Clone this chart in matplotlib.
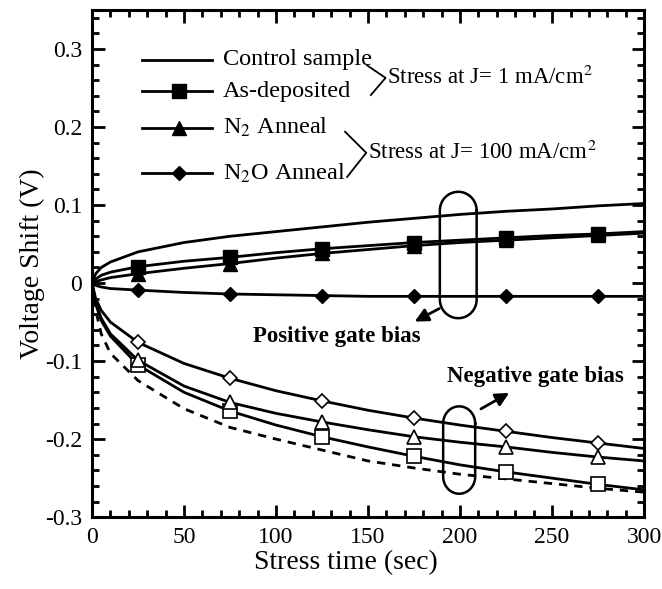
import numpy as np
import matplotlib
matplotlib.use("Agg")
import matplotlib.pyplot as plt
from matplotlib.ticker import MultipleLocator

plt.rcParams['font.family'] = ['Liberation Serif', 'DejaVu Serif']
plt.rcParams['mathtext.fontset'] = 'stix'

# stress time (sec) and read-off voltage shifts (V)
t = [0, 2, 5, 10, 25, 50, 75, 100, 125, 150, 175, 200, 225, 250, 275, 300]
marker_idx = [4, 6, 8, 10, 12, 14]  # t = 25, 75, ..., 275

# positive gate bias
pos_control = [0, 0.012, 0.020, 0.027, 0.040, 0.052, 0.060, 0.066, 0.072, 0.078,
               0.083, 0.088, 0.092, 0.095, 0.099, 0.102]
pos_asdep = [0, 0.005, 0.010, 0.014, 0.021, 0.028, 0.033, 0.039, 0.044, 0.048,
             0.052, 0.055, 0.058, 0.061, 0.063, 0.066]
pos_n2 = [0, 0.002, 0.004, 0.007, 0.012, 0.019, 0.025, 0.032, 0.038, 0.043,
          0.048, 0.052, 0.055, 0.058, 0.061, 0.064]
pos_n2o = [0, -0.003, -0.005, -0.007, -0.009, -0.012, -0.014, -0.015, -0.016, -0.017,
           -0.017, -0.017, -0.017, -0.017, -0.017, -0.017]

# negative gate bias
neg_control = [0, -0.035, -0.065, -0.090, -0.125, -0.161, -0.185, -0.200, -0.214, -0.228,
               -0.237, -0.245, -0.251, -0.257, -0.263, -0.268]
neg_asdep = [0, -0.027, -0.048, -0.068, -0.105, -0.140, -0.164, -0.182, -0.197, -0.210,
             -0.222, -0.233, -0.242, -0.250, -0.258, -0.265]
neg_n2 = [0, -0.025, -0.045, -0.065, -0.099, -0.132, -0.153, -0.167, -0.178, -0.188,
          -0.197, -0.204, -0.210, -0.217, -0.223, -0.228]
neg_n2o = [0, -0.020, -0.035, -0.050, -0.076, -0.103, -0.122, -0.138, -0.151, -0.163,
           -0.173, -0.182, -0.190, -0.198, -0.205, -0.212]

fig = plt.figure(figsize=(6.62, 5.89), dpi=100)
ax = fig.add_axes([0.139, 0.122, 0.834, 0.861])

lw = 2.0
ms = 10
ax.plot(t, pos_control, 'k-', lw=lw)
ax.plot(t, pos_asdep, 'k-', lw=lw, marker='s', ms=ms, markevery=marker_idx)
ax.plot(t, pos_n2, 'k-', lw=lw, marker='^', ms=ms, markevery=marker_idx)
ax.plot(t, pos_n2o, 'k-', lw=lw, marker='D', ms=7, markevery=marker_idx)

ax.plot(t, neg_control, 'k--', lw=lw, dashes=(3, 2.5))
ax.plot(t, neg_asdep, 'k-', lw=lw, marker='s', ms=ms, mfc='white', mew=1.2, markevery=marker_idx)
ax.plot(t, neg_n2, 'k-', lw=lw, marker='^', ms=ms, mfc='white', mew=1.2, markevery=marker_idx)
ax.plot(t, neg_n2o, 'k-', lw=lw, marker='D', ms=7.5, mfc='white', mew=1.2, markevery=marker_idx)

# legend drawn by hand
leg_x = [27, 65]
leg_mid = 47
leg_rows = [
    (0.286, None, 'Control sample'),
    (0.246, ('s', 10), 'As-deposited'),
    (0.199, ('^', 10), 'N$_2$ Anneal'),
    (0.141, ('D', 7), 'N$_2$O Anneal'),
]
for y, mk, label in leg_rows:
    ax.plot(leg_x, [y, y], 'k-', lw=lw)
    if mk:
        ax.plot([leg_mid], [y], 'k', marker=mk[0], ms=mk[1])
    ax.text(71, y, label, fontsize=17.5, va='center', ha='left')

ax.plot([149.5, 159.5, 151.5], [0.279, 0.263, 0.241], 'k-', lw=1.3)
ax.text(160.5, 0.263, 'Stress at J= 1 mA/cm$^2$', fontsize=16.5, va='center', ha='left')
ax.plot([137.5, 149, 138.6], [0.194, 0.167, 0.136], 'k-', lw=1.3)
ax.text(150, 0.167, 'Stress at J= 100 mA/cm$^2$', fontsize=16.5, va='center', ha='left')


def stadium(xc, y0, y1, rx, ry):
    th = np.linspace(0, np.pi, 40)
    top_x = xc + rx * np.cos(th)
    top_y = y1 - ry + ry * np.sin(th)
    bot_x = xc - rx * np.cos(th)
    bot_y = y0 + ry - ry * np.sin(th)
    xs = np.concatenate([top_x, bot_x, top_x[:1]])
    ys = np.concatenate([top_y, bot_y, top_y[:1]])
    ax.plot(xs, ys, 'k-', lw=1.8)


stadium(199, -0.045, 0.117, 10, 0.024)
stadium(199.5, -0.270, -0.158, 8.7, 0.022)

ax.annotate('', xy=(174, -0.051), xytext=(190, -0.031),
            arrowprops=dict(arrowstyle='-|>', color='k', lw=2, mutation_scale=20))
ax.annotate('', xy=(228, -0.139), xytext=(210, -0.163),
            arrowprops=dict(arrowstyle='-|>', color='k', lw=2, mutation_scale=20))
ax.text(133, -0.069, 'Positive gate bias', fontsize=16.5, fontweight='bold',
        ha='center', va='center')
ax.text(241, -0.120, 'Negative gate bias', fontsize=16.5, fontweight='bold',
        ha='center', va='center')

ax.set_xlim(0, 300)
ax.set_ylim(-0.3, 0.35)
ax.set_xticks(range(0, 301, 50))
ax.set_yticks([-0.3, -0.2, -0.1, 0, 0.1, 0.2, 0.3])
ax.set_yticklabels(['-0.3', '-0.2', '-0.1', '0', '0.1', '0.2', '0.3'])
ax.xaxis.set_minor_locator(MultipleLocator(10))
ax.yaxis.set_minor_locator(MultipleLocator(0.02))
ax.tick_params(which='both', direction='in', top=True, right=True, width=2)
ax.tick_params(which='major', length=9, labelsize=17, pad=7)
ax.tick_params(which='minor', length=5)
for s in ax.spines.values():
    s.set_linewidth(2.2)

ax.set_xlabel('Stress time (sec)', fontsize=20, labelpad=2)
ax.set_ylabel('Voltage Shift (V)', fontsize=20, labelpad=0)
ax.xaxis.set_label_coords(0.46, -0.065)

fig.savefig('out.png', dpi=100)
